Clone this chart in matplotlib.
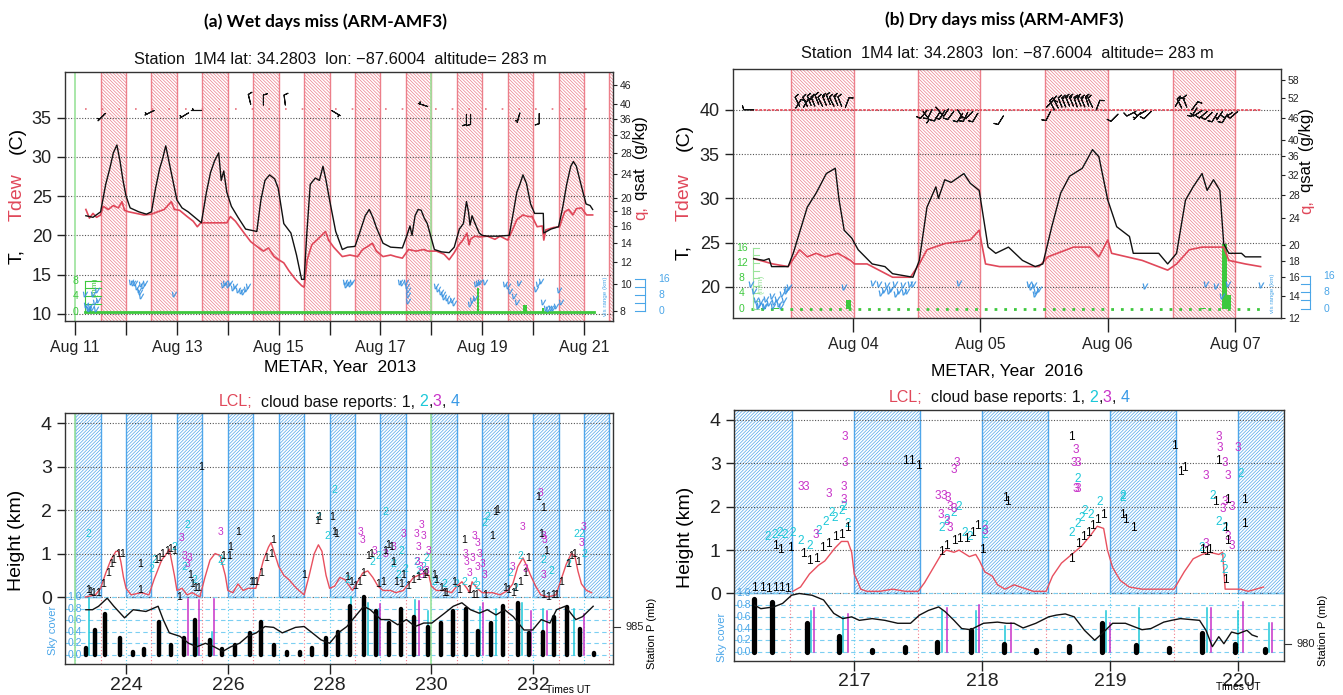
import numpy as np
import matplotlib
matplotlib.use('Agg')
import matplotlib.pyplot as plt
from matplotlib.patches import Rectangle

plt.rcParams['font.family'] = ['Liberation Sans Narrow', 'Liberation Sans', 'DejaVu Sans']
plt.rcParams['hatch.linewidth'] = 0.5
plt.rcParams['axes.linewidth'] = 1.0

# ------------------------------------------------------------------ data
# ---- (a) top: temperature / dew point (day of year 2013) ----
ta_time = [223.21, 223.35, 223.50, 223.60, 223.68, 223.75, 223.82, 223.88, 223.94, 224.00, 224.08, 224.25,
           224.40, 224.50, 224.58, 224.66, 224.72, 224.78, 224.84, 224.92, 225.00, 225.10, 225.22, 225.35,
           225.48, 225.58, 225.66, 225.74, 225.82, 225.87, 225.92, 225.98, 226.07, 226.20, 226.35, 226.57,
           226.65, 226.73, 226.82, 226.92, 226.99, 227.10, 227.24, 227.35, 227.45, 227.50, 227.55, 227.62,
           227.72, 227.80, 227.87, 227.93, 228.00, 228.12, 228.25, 228.35, 228.50, 228.60, 228.70, 228.78,
           228.85, 228.92, 229.05, 229.20, 229.43, 229.52, 229.58, 229.62, 229.68, 229.74, 229.80, 229.86,
           229.92, 230.06, 230.20, 230.35, 230.45, 230.55, 230.63, 230.69, 230.73, 230.76, 230.80, 230.86,
           230.94, 231.00, 231.10, 231.30, 231.53, 231.60, 231.68, 231.74, 231.80, 231.87, 231.95, 232.03,
           232.15, 232.20, 232.21, 232.35, 232.50, 232.58, 232.66, 232.74, 232.79, 232.85, 232.92, 232.98,
           233.04, 233.12, 233.17]
ta_temp = [22.5, 22.3, 23.0, 26.5, 28.5, 30.5, 31.5, 29.5, 27.0, 25.0, 23.5, 23.0,
           22.7, 23.0, 26.0, 28.5, 29.8, 31.4, 29.5, 27.0, 24.5, 23.5, 23.0, 22.3,
           21.6, 25.5, 28.0, 29.5, 30.5, 27.0, 28.2, 25.5, 23.7, 22.3, 20.8, 20.5,
           24.5, 27.0, 27.7, 27.2, 26.0, 21.5, 20.3, 17.5, 14.4, 14.4, 20.0, 26.5,
           27.3, 27.0, 28.8, 27.0, 24.5, 20.5, 18.2, 18.5, 18.6, 20.5, 22.5, 23.3,
           22.3, 21.0, 19.0, 18.5, 18.4, 20.0, 21.2, 20.0, 22.5, 23.3, 23.2, 22.2,
           21.5, 18.2, 17.9, 17.8, 18.5, 20.8, 21.5, 24.3, 23.0, 21.3, 22.5, 21.5,
           20.3, 20.0, 19.9, 19.9, 20.0, 22.5, 25.5, 26.5, 27.7, 26.6, 24.0, 22.8,
           22.8, 22.8, 20.3, 20.8, 21.1, 23.5, 26.5, 28.8, 29.4, 28.8, 27.0, 25.5,
           24.0, 23.8, 23.3]
tda_time = [223.21, 223.28, 223.35, 223.42, 223.50, 223.55, 223.65, 223.75, 223.85, 223.92, 223.97, 224.05,
            224.20, 224.35, 224.50, 224.62, 224.75, 224.89, 224.95, 225.05, 225.20, 225.32, 225.40, 225.47,
            225.60, 225.80, 225.98, 226.05, 226.15, 226.32, 226.45, 226.57, 226.70, 226.80, 226.91, 227.00,
            227.10, 227.20, 227.33, 227.45, 227.50, 227.56, 227.65, 227.78, 227.92, 227.98, 228.08, 228.25,
            228.40, 228.55, 228.65, 228.75, 228.84, 228.92, 229.05, 229.20, 229.30, 229.43, 229.55, 229.70,
            229.85, 229.93, 230.10, 230.25, 230.35, 230.45, 230.52, 230.62, 230.70, 230.74, 230.77, 230.85,
            230.95, 231.10, 231.25, 231.35, 231.50, 231.58, 231.68, 231.80, 231.90, 231.98, 232.08, 232.18,
            232.21, 232.25, 232.40, 232.52, 232.62, 232.70, 232.78, 232.85, 232.95, 233.05, 233.17]
tda_temp = [23.3, 22.2, 22.8, 22.3, 22.6, 23.7, 23.3, 23.8, 23.5, 24.3, 23.2, 23.0,
            22.8, 22.6, 22.7, 23.0, 23.3, 24.3, 23.3, 23.2, 22.4, 21.8, 21.1, 21.6,
            21.6, 21.6, 21.6, 22.4, 21.8, 20.3, 19.2, 18.6, 18.0, 18.4, 17.3, 16.9,
            16.5, 15.5, 14.4, 13.6, 13.4, 16.9, 18.8, 19.6, 20.5, 19.4, 18.5, 17.3,
            17.5, 17.3, 18.2, 18.6, 19.0, 18.0, 17.3, 17.5, 17.3, 17.1, 18.2, 18.0,
            18.2, 18.0, 18.0, 17.6, 16.9, 17.8, 18.6, 19.4, 20.3, 18.8, 19.5, 19.9,
            19.8, 19.9, 19.5, 19.9, 19.4, 20.5, 22.0, 22.6, 22.4, 22.4, 21.1, 21.2,
            19.4, 20.7, 21.0, 21.1, 23.0, 23.3, 22.6, 23.4, 23.5, 22.6, 22.6]

# ---- (b) top: temperature / dew point (day of year 2016) ----
tb_time = [216.22, 216.30, 216.34, 216.36, 216.49, 216.53, 216.57, 216.64, 216.71, 216.79, 216.86, 216.89,
           216.93, 216.99, 217.04, 217.15, 217.25, 217.31, 217.47, 217.52, 217.58, 217.65, 217.67, 217.72,
           217.77, 217.87, 217.92, 217.99, 218.06, 218.12, 218.22, 218.33, 218.43, 218.49, 218.56, 218.63,
           218.70, 218.80, 218.88, 218.93, 219.00, 219.07, 219.17, 219.20, 219.40, 219.47, 219.54, 219.61,
           219.67, 219.74, 219.78, 219.83, 219.88, 219.91, 219.95, 220.05, 220.08, 220.20]
tb_temp = [23.2, 23.0, 23.2, 22.3, 22.3, 23.8, 25.7, 29.0, 30.6, 32.8, 33.4, 29.8,
           26.4, 25.5, 24.2, 22.6, 22.3, 21.5, 21.1, 23.0, 29.0, 31.3, 30.0, 32.1,
           31.8, 32.8, 31.7, 30.9, 24.5, 23.8, 24.5, 23.0, 22.3, 22.6, 26.8, 30.6,
           32.5, 33.4, 35.5, 34.7, 29.8, 26.8, 25.7, 23.8, 23.8, 22.6, 23.8, 29.8,
           31.3, 32.8, 30.9, 32.1, 30.9, 24.9, 23.8, 23.8, 23.4, 23.4]
tdb_time = [216.22, 216.37, 216.49, 216.58, 216.64, 216.71, 216.78, 216.88, 216.98, 217.01, 217.11, 217.31,
            217.45, 217.52, 217.58, 217.72, 217.92, 217.99, 218.04, 218.15, 218.46, 218.53, 218.73, 218.86,
            218.93, 219.00, 219.03, 219.27, 219.47, 219.54, 219.64, 219.74, 219.91, 219.95, 220.08, 220.20]
tdb_temp = [23.2, 22.6, 22.3, 24.2, 23.4, 23.8, 23.4, 23.8, 23.0, 22.6, 22.6, 21.1,
            21.1, 22.6, 24.2, 24.9, 25.3, 26.4, 22.6, 22.3, 22.3, 23.4, 24.5, 24.5,
            23.4, 25.3, 23.8, 23.0, 21.9, 22.6, 24.2, 24.5, 24.5, 23.0, 22.6, 22.3]

# ---- wind barbs (time, plotted level, u, v in knots) ----
wa_time = [223.59, 224.55, 225.23, 225.48, 226.45, 226.70, 227.13, 228.04, 229.93, 230.69, 230.77, 231.74, 232.12]
wa_lev = [35.5, 35.9, 35.6, 35.9, 36.7, 36.6, 36.6, 35.9, 36.4, 35.4, 35.4, 35.6, 35.5]
wa_u = [5, 6, 5, 6, 2, 0, 1, -5, 6, 0, 0, 2, 0]
wa_v = [5, 3, 3, 0, -8, -8, -8, 3, -2, 8, 8, 7, 8]
wb_time = [216.22, 216.55, 216.58, 216.61, 216.64, 216.67, 216.70, 216.73, 216.76, 216.79, 216.82, 216.85,
           216.88, 216.91, 216.94, 217.55, 217.58, 217.62, 217.65, 217.68, 217.72, 217.75, 217.79, 217.82,
           217.86, 217.90, 217.94, 217.98, 218.18, 218.52, 218.55, 218.58, 218.61, 218.64, 218.67, 218.70,
           218.73, 218.76, 218.79, 218.82, 218.85, 218.88, 218.91, 219.08, 219.22, 219.26, 219.30, 219.34,
           219.53, 219.58, 219.62, 219.66, 219.70, 219.74, 219.78, 219.82, 219.86, 219.90, 219.94, 219.98, 220.02]
wb_lev = [40.0, 40.2, 40.4, 40.3, 40.4, 40.5, 40.4, 40.6, 40.4, 40.5, 40.6, 40.4,
          40.5, 40.4, 40.3, 39.8, 39.9, 40.0, 40.3, 39.7, 39.9, 40.1, 39.8, 40.0,
          39.6, 39.7, 39.8, 39.6, 39.3, 40.3, 39.8, 40.0, 40.2, 40.3, 40.3, 40.4,
          40.4, 40.3, 40.4, 40.3, 40.4, 40.3, 40.0, 39.5, 39.8, 39.7, 39.9, 39.8,
          40.4, 40.2, 40.3, 40.0, 40.2, 39.9, 39.8, 39.7, 39.6, 39.8, 39.5, 39.7, 39.8]
wb_u = [8, -5, 5, -5, 5, 4, 5, 4, 5, 5, 4, 5, 5, 4, -3, -6, 5, 4, -5, 5, 5, 4, 6, -4,
        5, 4, 6, 5, 5, -8, 4, 5, 5, 4, 5, 5, 5, 4, 5, 5, 4, 5, -3, 6, 8, 5, 7, 6,
        -5, 5, 4, -6, 5, 8, 7, 6, 5, 4, 5, 8, 7]
wb_v = [0, -8, -10, -8, -10, -10, -12, -10, -10, -12, -10, -10, -12, -10, -8, 8, 6, 8, 6, 8, 8, 6, 8, 6,
        8, 8, 6, 8, 8, -8, 8, -10, -10, -10, -12, -12, -12, -12, -12, -12, -12, -10, -8, 6, 4, 5, 4, 6,
        -8, -10, -10, -8, 8, 5, 6, 6, 8, 6, 8, 5, 6]

# ---- precipitation (mm) ----
pa_time = [230.92, 231.82, 231.86, 232.20, 223.30]
pa_mm = [6.2, 1.6, 1.8, 0.9, 0.6]
pb_time = [216.30, 216.40, 216.965, 219.915, 219.945, 219.75]
pb_mm = [0.3, 0.3, 2.4, 17.0, 3.6, 0.2]

# ---- visibility markers (plotted on temperature scale) ----
va_time = [223.20, 223.22, 223.25, 223.28, 223.30, 223.33, 223.35, 223.38, 223.40, 223.43, 223.45,
           224.09, 224.14, 224.18, 224.22, 224.25, 224.30, 224.34, 224.38, 224.27, 224.30, 224.95,
           225.90, 225.95, 226.00, 226.05, 226.10, 226.15, 226.20, 226.25, 226.30, 226.35, 226.40,
           228.30, 228.33, 228.37, 228.41, 228.45, 229.39, 229.42, 229.50, 229.52, 229.55, 229.55, 229.55,
           230.10, 230.13, 230.18, 230.22, 230.25, 230.30, 230.35, 230.40, 230.45,
           230.75, 230.80, 230.85, 230.88, 230.92, 230.96, 231.05, 231.45, 231.50, 231.55, 231.62, 231.68, 231.72,
           232.05, 232.10, 232.15, 232.20, 232.25, 232.30, 232.35, 232.40, 232.45, 232.50, 232.55]
va_lev = [12.5, 11.2, 10.7, 10.6, 11.0, 10.7, 12.6, 11.5, 10.6, 13.0, 11.8,
          14.1, 13.9, 14.0, 13.4, 13.0, 13.8, 13.6, 13.9, 12.8, 12.3, 12.6,
          13.7, 14.0, 13.7, 13.9, 13.3, 13.5, 13.0, 12.9, 12.8, 13.2, 13.5,
          14.1, 13.7, 14.0, 13.8, 14.1, 14.1, 13.9, 14.1, 13.5, 13.0, 12.4, 11.6,
          13.6, 13.2, 12.8, 12.6, 12.2, 12.0, 11.6, 11.8, 11.4,
          11.3, 11.8, 12.0, 13.8, 14.0, 14.1, 14.1, 13.8, 13.6, 12.9, 12.3, 11.5, 14.0,
          13.2, 13.8, 14.2, 11.5, 10.7, 10.6, 10.7, 10.8, 11.0, 13.0, 11.5]
vb_time = [216.20, 216.22, 216.24, 216.26, 216.28, 216.30, 216.32, 216.34, 216.36, 216.38, 216.40, 216.42,
           216.44, 216.46, 216.48, 216.50, 216.25, 216.31, 216.37, 216.43, 216.47,
           216.93, 217.16, 217.20, 217.24, 217.27, 217.30, 217.33, 217.36, 217.39, 217.42, 217.45, 217.47,
           217.22, 217.28, 217.34, 217.40, 217.83, 218.38, 218.40, 218.42, 218.44, 218.46, 218.43,
           219.29, 219.77, 219.85, 219.90, 219.94, 220.20]
vb_lev = [20.3, 19.5, 18.5, 18.0, 18.4, 17.9, 18.6, 18.2, 19.0, 18.3, 18.6, 18.1,
          19.2, 18.5, 19.8, 20.0, 17.9, 17.9, 17.9, 17.9, 19.5,
          20.0, 20.4, 20.3, 19.7, 20.2, 19.8, 20.3, 19.5, 20.2, 19.6, 20.3, 20.3,
          19.3, 19.6, 19.2, 19.4, 20.5, 20.3, 20.0, 20.2, 19.6, 19.8, 19.2,
          20.1, 20.3, 20.1, 19.0, 20.3, 20.2]

# ---- (a) bottom: LCL and cloud bases (km) ----
lcla_time = [223.2, 223.4, 223.5, 223.6, 223.7, 223.8, 223.85, 223.9, 223.95, 224.0, 224.1, 224.3, 224.45,
             224.55, 224.7, 224.8, 224.85, 224.9, 224.95, 225.0, 225.1, 225.2, 225.3, 225.45, 225.55, 225.65,
             225.75, 225.85, 225.95, 226.0, 226.1, 226.2, 226.3, 226.4, 226.55, 226.6, 226.7, 226.8, 226.85,
             226.92, 227.0, 227.1, 227.2, 227.35, 227.5, 227.6, 227.7, 227.78, 227.85, 227.93, 228.0, 228.1,
             228.2, 228.3, 228.45, 228.55, 228.65, 228.75, 228.85, 228.95, 229.05, 229.2, 229.3, 229.45,
             229.55, 229.65, 229.75, 229.85, 229.95, 230.0, 230.1, 230.25, 230.4, 230.5, 230.6, 230.7, 230.75,
             230.8, 230.9, 231.0, 231.2, 231.35, 231.5, 231.6, 231.7, 231.8, 231.88, 231.95, 232.05, 232.15,
             232.3, 232.45, 232.55, 232.65, 232.75, 232.82, 232.88, 232.95, 233.05, 233.15]
lcla_km = [0.0, 0.05, 0.2, 0.55, 0.85, 1.05, 1.05, 0.8, 0.45, 0.2, 0.05, 0.1, 0.05,
           0.4, 0.85, 1.0, 1.1, 0.8, 0.5, 0.15, 0.2, 0.05, 0.1, 0.0, 0.45, 0.85,
           1.0, 0.95, 0.5, 0.15, 0.1, 0.3, 0.15, 0.2, 0.2, 0.4, 0.85, 1.15, 1.25,
           1.0, 0.7, 0.5, 0.4, 0.2, 0.05, 0.5, 1.0, 1.2, 1.05, 0.5, 0.2, 0.25,
           0.45, 0.4, 0.15, 0.35, 0.55, 0.6, 0.45, 0.25, 0.15, 0.15, 0.1, 0.15,
           0.3, 0.45, 0.5, 0.55, 0.5, 0.25, 0.15, 0.15, 0.1, 0.25, 0.35, 0.2, 0.1,
           0.35, 0.2, 0.1, 0.1, 0.05, 0.15, 0.3, 0.7, 0.9, 0.7, 0.5, 0.25, 0.05,
           0.0, 0.05, 0.4, 0.75, 1.0, 0.95, 0.6, 0.3, 0.15, 0.1]
cba1 = [(223.25, 0.15), (223.3, 0.12), (223.35, 0.1), (223.45, 0.1), (223.55, 0.3), (223.65, 0.55),
        (223.7, 0.75), (223.75, 0.85), (223.85, 1.0), (223.93, 1.0), (224.28, 0.75), (224.28, 0.15),
        (224.6, 0.85), (224.65, 0.9), (224.7, 1.0), (224.8, 1.05), (224.87, 1.1), (224.95, 1.05),
        (225.05, 0.0), (225.25, 0.5), (225.3, 0.3), (225.35, 0.2), (225.42, 0.2), (225.48, 3.0),
        (225.9, 0.95), (226.03, 0.95), (226.05, 1.15), (226.2, 1.5), (226.45, 0.35), (226.5, 0.35),
        (226.55, 0.35), (226.65, 0.55), (226.75, 0.9), (226.85, 1.0), (226.9, 1.3), (227.75, 1.75),
        (227.8, 1.85), (228.05, 1.85), (228.08, 1.5), (228.12, 1.45), (227.5, 0.5), (228.35, 0.45),
        (228.42, 0.35), (228.5, 0.25), (228.58, 0.35), (228.65, 0.55), (228.75, 0.95), (228.82, 1.0),
        (228.95, 0.3), (229.05, 0.35), (229.1, 1.05), (229.15, 1.2), (229.2, 1.15), (229.25, 0.8),
        (229.3, 0.35), (229.4, 0.3), (229.45, 0.5), (229.55, 0.25), (229.65, 0.4), (229.75, 0.45),
        (229.85, 0.5), (229.9, 0.55), (230.05, 0.5), (230.1, 0.4), (230.2, 0.2), (230.25, 0.1),
        (230.3, 0.1), (230.45, 0.35), (230.55, 0.15), (230.65, 1.3), (230.75, 0.15), (230.82, 0.05),
        (230.88, 0.05), (231.05, 0.05), (231.2, 1.4), (231.25, 1.95), (231.3, 2.0), (231.45, 0.2),
        (231.5, 0.15), (231.6, 0.1), (231.65, 0.2), (231.75, 0.35), (231.85, 0.55), (231.9, 0.9),
        (232.1, 2.3), (232.15, 1.45), (232.2, 2.05), (232.25, 1.05), (232.2, 0.05), (232.3, 0.0),
        (232.4, 0.05), (232.45, 0.05), (232.55, 0.35), (232.68, 0.75), (232.75, 0.95), (232.8, 1.0),
        (232.88, 0.8)]
cba2 = [(223.25, 1.45), (224.5, 0.65), (224.55, 0.85), (224.95, 1.15), (225.15, 0.7), (225.2, 1.65),
        (225.35, 0.4), (225.85, 0.85), (225.9, 0.8), (227.78, 1.85), (227.95, 1.4), (228.1, 2.45),
        (228.35, 0.4), (228.85, 0.8), (228.95, 0.95), (229.1, 1.95), (229.25, 0.75), (229.35, 0.5),
        (229.42, 1.05), (229.48, 0.65), (229.7, 0.8), (229.75, 0.6), (229.85, 0.7), (229.9, 0.9),
        (230.05, 0.35), (230.25, 0.3), (230.5, 0.3), (230.65, 0.35), (230.85, 0.35), (230.9, 0.25),
        (231.05, 1.7), (231.1, 1.85), (231.55, 0.55), (231.65, 0.2), (231.75, 0.95), (232.2, 0.85),
        (232.35, 0.6), (232.7, 0.75), (232.85, 1.45), (232.95, 1.45), (233.0, 1.0)]
cba3 = [(225.1, 1.35), (225.15, 0.95), (225.25, 0.9), (225.2, 0.75), (225.85, 1.5), (228.6, 1.5),
        (228.65, 1.3), (228.88, 1.05), (229.1, 1.0), (229.25, 1.15), (229.45, 1.45), (229.7, 1.45),
        (229.8, 1.65), (229.85, 1.4), (229.75, 1.15), (229.72, 0.8), (229.78, 0.7), (229.8, 0.5),
        (229.9, 0.6), (229.95, 1.05), (230.68, 1.0), (230.7, 0.8), (230.75, 0.55), (230.8, 0.9),
        (230.85, 1.4), (230.9, 1.25), (230.95, 1.0), (230.9, 0.7), (231.0, 0.75), (231.05, 0.5),
        (231.6, 0.7), (231.85, 0.65), (231.8, 1.6), (232.15, 2.4), (232.2, 1.4), (232.22, 1.3),
        (232.2, 0.5), (232.95, 1.25), (233.0, 1.6)]

# ---- (b) bottom ----
lclb_time = [216.52, 216.58, 216.65, 216.72, 216.77, 216.85, 216.90, 216.95, 216.98, 217.00, 217.03, 217.05,
             217.10, 217.20, 217.30, 217.40, 217.50, 217.55, 217.62, 217.68, 217.72, 217.78, 217.82, 217.90,
             217.95, 217.98, 218.02, 218.08, 218.12, 218.18, 218.25, 218.30, 218.40, 218.50, 218.55, 218.62,
             218.70, 218.78, 218.85, 218.90, 218.95, 218.98, 219.02, 219.08, 219.15, 219.25, 219.35, 219.50,
             219.58, 219.65, 219.72, 219.78, 219.85, 219.88, 219.90, 219.95, 220.02, 220.08, 220.20]
lclb_km = [0.05, 0.15, 0.45, 0.65, 0.75, 1.05, 1.2, 1.2, 0.95, 0.45, 0.25, 0.1,
           0.05, 0.05, 0.1, 0.05, 0.05, 0.25, 0.6, 0.9, 1.0, 0.95, 1.0, 0.85,
           0.9, 0.75, 0.5, 0.4, 0.2, 0.1, 0.2, 0.15, 0.05, 0.05, 0.4, 0.7,
           0.9, 1.1, 1.35, 1.55, 1.5, 1.0, 0.6, 0.3, 0.15, 0.1, 0.1, 0.1,
           0.5, 0.8, 0.9, 0.95, 0.9, 0.95, 0.1, 0.1, 0.1, 0.05, 0.15]
cbb1 = [(216.22, 0.12), (216.28, 0.12), (216.33, 0.1), (216.38, 0.12), (216.43, 0.12), (216.48, 0.1),
        (216.38, 1.1), (216.42, 1.0), (216.5, 1.05), (216.6, 0.9), (216.65, 0.75), (216.7, 0.8),
        (216.75, 1.05), (216.8, 1.15), (216.85, 1.3), (216.9, 1.35), (216.95, 1.5), (217.4, 3.05),
        (217.45, 3.05), (217.5, 2.95), (217.68, 0.95), (217.72, 1.1), (217.78, 1.2), (217.82, 1.25),
        (217.88, 1.25), (217.92, 1.4), (217.96, 1.55), (218.0, 1.0), (218.18, 2.2), (218.2, 2.1),
        (218.7, 0.8), (218.75, 1.15), (218.79, 1.3), (218.83, 1.4), (218.86, 1.55), (218.9, 1.7),
        (218.95, 1.8), (218.7, 3.6), (219.1, 1.8), (219.12, 1.7), (219.18, 1.5), (219.5, 3.4),
        (219.55, 2.8), (219.58, 2.9), (219.72, 1.0), (219.75, 0.95), (219.78, 1.0), (219.82, 2.1),
        (219.85, 3.05), (219.9, 1.5), (219.92, 1.2), (219.9, 0.3), (219.92, 2.15), (220.05, 2.15),
        (220.05, 1.6)]
cbb2 = [(216.32, 1.3), (216.38, 1.35), (216.42, 1.4), (216.46, 1.35), (216.52, 1.4), (216.58, 1.2),
        (216.65, 1.1), (216.72, 1.45), (216.78, 1.65), (216.82, 1.85), (216.85, 1.75), (216.9, 1.9),
        (216.92, 2.0), (216.95, 1.6), (217.68, 1.5), (217.72, 1.7), (217.78, 1.85), (217.82, 2.0),
        (217.86, 1.4), (217.9, 1.3), (218.02, 1.55), (218.02, 1.35), (218.7, 1.4), (218.75, 1.6),
        (218.8, 1.9), (218.85, 1.8), (218.75, 2.65), (218.78, 1.75), (218.92, 2.1), (219.1, 2.25),
        (219.1, 2.2), (219.8, 2.25), (219.85, 1.65), (219.9, 0.55), (219.88, 0.8), (219.9, 1.5),
        (220.02, 2.75), (219.72, 1.05)]
cbb3 = [(216.58, 2.45), (216.62, 2.45), (216.8, 2.3), (216.92, 2.45), (216.92, 2.15), (216.93, 3.0),
        (216.93, 3.6), (216.7, 1.35), (217.65, 2.25), (217.7, 2.25), (217.73, 2.2), (217.68, 1.8),
        (217.72, 1.65), (217.75, 2.0), (217.78, 1.95), (217.8, 3.0), (217.78, 2.85), (217.75, 1.5),
        (218.02, 1.45), (218.72, 3.0), (218.73, 3.3), (218.73, 2.4), (218.75, 2.4), (218.75, 3.0),
        (219.75, 1.15), (219.75, 2.7), (219.85, 3.6), (219.86, 3.35), (219.9, 2.1), (219.92, 2.7),
        (219.95, 2.0), (219.88, 1.95), (219.9, 3.0), (219.92, 1.3), (219.95, 1.1), (220.0, 3.35)]

# ---- sky cover (fraction) ----
ska_time = [223.21, 223.39, 223.59, 223.88, 224.13, 224.36, 224.64, 224.89, 225.14, 225.36, 225.65, 225.88,
            226.15, 226.43, 226.66, 226.91, 227.16, 227.41, 227.66, 227.92, 228.17, 228.40, 228.67, 228.92,
            229.16, 229.41, 229.66, 229.93, 230.18, 230.42, 230.69, 230.92, 231.17, 231.40, 231.70, 231.92,
            232.20, 232.42, 232.66, 232.92, 233.19]
ska_frac = [0.12, 0.43, 0.70, 0.30, 0.05, 0.10, 0.57, 0.17, 0.30, 0.60, 0.25, 0.10,
            0.17, 0.38, 0.57, 0.17, 0.05, 0.05, 0.12, 0.30, 0.40, 0.85, 1.00, 0.75,
            0.55, 0.80, 0.65, 0.48, 0.55, 0.75, 0.80, 0.42, 0.55, 0.85, 0.90, 0.37,
            0.40, 0.65, 0.82, 0.45, 0.03]
ska2_time = [223.27, 225.41, 225.69, 228.42, 228.76, 228.97, 229.68, 229.93, 230.96, 231.28, 231.78, 232.20, 232.80]
ska2_frac = [0.98, 0.30, 0.40, 1.00, 0.90, 0.80, 0.95, 0.75, 0.82, 0.80, 0.90, 0.80, 0.80]
ska3_time = [225.20, 225.43, 225.72, 228.99, 229.74, 231.00, 231.95, 232.27, 233.00]
ska3_frac = [0.97, 0.95, 0.97, 0.88, 0.93, 0.90, 0.75, 0.75, 0.70]
skb_time = [216.22, 216.36, 216.63, 216.88, 217.14, 217.40, 217.65, 217.91, 218.17, 218.42, 218.68, 218.94,
            219.20, 219.46, 219.72, 219.98, 220.21]
skb_frac = [0.90, 0.85, 0.50, 0.28, 0.03, 0.08, 0.17, 0.38, 0.13, 0.03, 0.10, 0.50,
            0.12, 0.07, 0.33, 0.13, 0.05]
skb2_time = [216.66, 216.91, 217.69, 217.95, 218.18, 218.97, 219.23, 219.76, 220.00, 220.24]
skb2_frac = [0.70, 0.60, 0.70, 0.70, 0.45, 0.70, 0.75, 0.75, 0.70, 0.50]
skb3_time = [216.68, 216.94, 217.72, 217.97, 218.22, 218.99, 219.78, 220.03, 220.26]
skb3_frac = [0.75, 0.65, 0.75, 0.80, 0.50, 0.50, 0.75, 0.85, 0.50]

# ---- station pressure (mb) ----
pra_time = [223.21, 223.34, 223.46, 223.63, 223.76, 223.97, 224.14, 224.39, 224.63, 224.73, 224.85, 225.06,
            225.23, 225.39, 225.56, 225.73, 225.90, 226.06, 226.23, 226.39, 226.56, 226.73, 226.90, 227.07,
            227.33, 227.50, 227.66, 227.83, 228.00, 228.17, 228.34, 228.50, 228.67, 228.80, 229.01, 229.18,
            229.34, 229.51, 229.68, 229.85, 230.01, 230.26, 230.43, 230.60, 230.77, 230.94, 231.10, 231.27,
            231.44, 231.61, 231.82, 231.99, 232.16, 232.33, 232.46, 232.63, 232.84, 232.97, 233.18]
pra_mb = [986.22, 986.22, 986.46, 987.02, 986.46, 985.66, 986.22, 986.10, 986.46, 985.54, 984.62, 984.38,
          983.90, 983.66, 983.90, 983.66, 983.34, 983.66, 983.90, 984.38, 984.62, 985.06, 985.00, 984.62,
          985.00, 985.06, 984.62, 984.14, 983.90, 984.62, 985.06, 985.74, 986.46, 986.22, 985.54, 985.54,
          985.18, 985.54, 985.06, 985.30, 985.30, 985.98, 986.46, 986.70, 986.22, 985.98, 986.22, 985.86,
          986.22, 985.74, 984.82, 984.82, 985.54, 985.30, 986.22, 986.46, 985.54, 985.74, 986.46]
prb_time = [216.22, 216.27, 216.37, 216.44, 216.51, 216.57, 216.67, 216.76, 216.84, 216.91, 216.98, 217.04,
            217.14, 217.24, 217.34, 217.44, 217.51, 217.58, 217.66, 217.71, 217.78, 217.84, 217.91, 218.01,
            218.12, 218.19, 218.25, 218.32, 218.42, 218.52, 218.58, 218.65, 218.72, 218.80, 218.88, 218.95,
            219.02, 219.12, 219.19, 219.25, 219.32, 219.42, 219.48, 219.55, 219.65, 219.70, 219.75, 219.80,
            219.85, 219.89, 219.95, 220.00, 220.07, 220.11, 220.15]
prb_mb = [982.64, 982.40, 982.52, 982.76, 983.32, 983.44, 983.32, 983.00, 982.08, 981.72, 981.84, 981.60,
          981.72, 981.60, 981.40, 981.40, 981.96, 982.28, 982.52, 982.20, 981.60, 981.04, 980.96, 981.40,
          981.48, 981.40, 981.40, 981.08, 981.40, 981.84, 981.96, 982.04, 981.84, 980.92, 980.24, 980.80,
          981.40, 981.40, 981.16, 980.96, 981.04, 981.48, 981.60, 981.72, 981.64, 981.60, 980.92, 979.80,
          980.48, 980.00, 980.80, 980.68, 980.92, 980.60, 980.48]

# tick labels
xlab_a = ['Aug 11', '', 'Aug 13', '', 'Aug 15', '', 'Aug 17', '', 'Aug 19', '', 'Aug 21']
xlab_b = ['Aug 04', 'Aug 05', 'Aug 06', 'Aug 07']
qt_a = [8, 10, 12, 14, 16, 18, 20, 24, 28, 32, 36, 40, 46]
qt_b = [12, 14, 16, 18, 20, 24, 28, 32, 36, 40, 46, 52, 58]

# ------------------------------------------------------------------ style
RED = '#E0485A'
HRED = '#EC7F8A'
BLUE = '#3A9AE6'
HBLUE = '#4FA6EA'
CYAN = '#1CC8D8'
MAG = '#C832C8'
GREEN = '#3DC83D'
LGREEN = '#9BE39B'
VBLUE = '#3C95E2'

W, H = 1343, 695
fig = plt.figure(figsize=(W / 100, H / 100), dpi=100)


def ax_px(l, t, r, b):
    return fig.add_axes([l / W, 1 - b / H, (r - l) / W, (b - t) / H])


def px2fx(x):
    return x / W


def px2fy(y):
    return 1 - y / H


def qfuncs(p):
    def T2q(T):
        T = np.asarray(T, float)
        es = 6.112 * np.exp(17.67 * T / (T + 243.5))
        return 622.0 * es / (p - 0.378 * es)

    def q2T(q):
        q = np.clip(np.asarray(q, float), 0.5, 300)
        es = q * p / (622.0 + 0.378 * q)
        L = np.log(es / 6.112)
        return 243.5 * L / (17.67 - L)
    return T2q, q2T


def frame(ax):
    for s in ax.spines.values():
        s.set_color('#333333')
        s.set_linewidth(1.0)


def top_panel(ax, xlim, ylim, ygrid, ttime, ttemp, tdtime, tdtemp, red_starts, red_w,
              pres, qticks, xticks, xlabels, ticklen):
    ax.set_xlim(*xlim)
    ax.set_ylim(*ylim)
    frame(ax)
    for g in ygrid:
        ax.axhline(g, color='#555555', lw=0.8, ls=(0, (1, 1.5)), zorder=1)
    for s in red_starts:
        ax.add_patch(Rectangle((s, ylim[0] - 5), red_w, ylim[1] - ylim[0] + 10, facecolor='none',
                               edgecolor=HRED, hatch='\\' * 10, lw=1.0, zorder=0.5))
    ax.plot(tdtime, tdtemp, color=RED, lw=1.2, zorder=4)
    ax.plot(ttime, ttemp, color='#111111', lw=1.0, zorder=5)
    ax.set_yticks(ygrid)
    ax.tick_params(axis='y', labelsize=13, length=6, width=1, colors='#222222')
    ax.set_xticks(xticks)
    ax.set_xticklabels(xlabels)
    ax.tick_params(axis='x', labelsize=11.5, length=ticklen, width=1, colors='#222222', pad=4)
    T2q, q2T = qfuncs(pres)
    sec = ax.secondary_yaxis('right', functions=(T2q, q2T))
    sec.set_yticks(qticks)
    sec.tick_params(labelsize=7.5, length=3, pad=2, colors='#222222')
    sec.spines['right'].set_visible(False)
    return sec


def bottom_panel(ax, xlim, blue_starts, blue_w, lt, lk, c1, c2, c3, skt, skf, sk2t, sk2f, sk3t, sk3f,
                 prt, prm, pref, prsky, skbase, barw, fs, xt):
    ytop = 4.23
    ybot = skbase - 0.21
    ax.set_xlim(*xlim)
    ax.set_ylim(ybot, ytop)
    frame(ax)
    for g in [0, 1, 2, 3, 4]:
        ax.axhline(g, color='#555555', lw=0.8, ls=(0, (1, 1.5)), zorder=1)
    for s in blue_starts:
        ax.add_patch(Rectangle((s, 0), blue_w, ytop + 1, facecolor='none', edgecolor=HBLUE,
                               hatch='/' * 10, lw=1.0, zorder=0.5))

    def sky(f):
        return skbase * (1 - np.asarray(f, float))
    for f in [0, 0.2, 0.4, 0.6, 0.8, 1.0]:
        ax.axhline(sky(f), color='#7CCFF2', lw=0.8, ls=(0, (4, 3)), zorder=1)
        ax.text(0.004, sky(f), '%.1f' % f, transform=ax.get_yaxis_transform(), color='#4BA6E8',
                fontsize=7.5, va='center', ha='left', zorder=6)
    for d in range(int(np.floor(xlim[0])), int(np.ceil(xlim[1])) + 1):
        ax.plot([d, d], [ybot, 0], color='#5ACCF0', lw=0.8, ls=(0, (1, 2)), zorder=1)
        ax.plot([d + 0.5, d + 0.5], [ybot, 0], color='#F07A8A', lw=0.8, ls=(0, (1, 2)), zorder=1)
    for t, f in zip(sk2t, sk2f):
        ax.plot([t, t], [sky(0), sky(f)], color=CYAN, lw=1.1, zorder=3)
    for t, f in zip(sk3t, sk3f):
        ax.plot([t + 0.008, t + 0.008], [sky(0), sky(f)], color=MAG, lw=1.1, zorder=3)
    for t, f in zip(skt, skf):
        ax.plot([t, t], [sky(0), sky(max(f, 0.0))], color='black', lw=barw, solid_capstyle='round',
                zorder=4)
    pk = np.asarray(prsky)
    ax.plot(prt, sky(pk[0] + (np.asarray(prm) - pref) * pk[1]), color='#111111', lw=1.0, zorder=5)
    ax.plot([1.0, 1.012], [sky(pk[0]), sky(pk[0])], transform=ax.get_yaxis_transform(),
            color='#333333', lw=0.8, clip_on=False)
    ax.text(1.022, sky(pk[0]), '%d' % pref, transform=ax.get_yaxis_transform(), fontsize=8,
            va='center', ha='left', color='#222222')
    ax.plot(lt, lk, color='#E8505F', lw=1.0, zorder=4)
    for pts, col, lab in [(c2, CYAN, '2'), (c3, MAG, '3'), (c1, 'black', '1')]:
        for (t, h) in pts:
            ax.text(t, h, lab, color=col, fontsize=fs, ha='center', va='center', zorder=6,
                    clip_on=True)
    ax.set_yticks([0, 1, 2, 3, 4])
    ax.tick_params(axis='y', labelsize=14, length=6, width=1, colors='#222222')
    ax.set_xticks(xt)
    ax.set_xticklabels([str(v) for v in xt])
    ax.tick_params(axis='x', labelsize=14, length=7, width=1, colors='#222222', pad=2)


# ---------------- (a) top
axA = ax_px(65, 72, 613, 321)
top_panel(axA, (222.80, 233.57), (9.1, 40.8), [10, 15, 20, 25, 30, 35], ta_time, ta_temp,
          tda_time, tda_temp, [223.5 + i for i in range(11)], 0.5, 985.0, qt_a,
          list(range(223, 234)), xlab_a, 10)
axA.axvline(223.0, color=LGREEN, lw=1.2, zorder=2)
axA.axvline(230.0, color=LGREEN, lw=1.2, zorder=2)
axA.plot([223.2, 233.2], [36.1, 36.1], color='#E8707C', lw=1.2, ls=(0, (1, 9)), zorder=3)
axA.barbs(wa_time, wa_lev, wa_u, wa_v, length=3.8, linewidth=0.8, color='#111111', zorder=6)
pscale_a = 0.49
axA.plot([223.2, 228.05], [10.3, 10.3], color=GREEN, lw=2.0, zorder=3)
axA.plot([228.1, 233.2], [10.3, 10.3], color=GREEN, lw=2.0, zorder=3)
axA.bar(pa_time, np.asarray(pa_mm) * pscale_a, bottom=10.3, width=0.04, color=GREEN, zorder=3)
axA.plot([223.2, 223.2], [10.3, 10.3 + 8 * pscale_a], color=GREEN, lw=0.8, zorder=3)
for m in [0, 2, 4, 6, 8]:
    axA.plot([223.2, 223.5], [10.3 + m * pscale_a] * 2, color=GREEN, lw=0.8, zorder=3)
for m in [0, 4, 8]:
    axA.text(223.0, 10.3 + m * pscale_a, str(m), color=GREEN, fontsize=7.5, ha='center', va='center')
axA.text(223.38, 13.4, '(mm)', color=GREEN, fontsize=6, rotation=90, ha='center', va='center')
axA.scatter(va_time, va_lev, marker='$v$', s=14, color=VBLUE, linewidths=0.2, zorder=6)
vt = axA.get_yaxis_transform()
vA0, vAk = 10.35, 2.05 / 8
xa = (645 - 65) / 548
axA.plot([xa, xa], [vA0, vA0 + 16 * vAk], transform=vt, color='#4BA6E8', lw=0.8, clip_on=False)
for m in [0, 4, 8, 12, 16]:
    axA.plot([xa - 0.018, xa], [vA0 + m * vAk] * 2, transform=vt, color='#4BA6E8', lw=0.8, clip_on=False)
for m in [0, 8, 16]:
    axA.text(xa + 0.025, vA0 + m * vAk, str(m), transform=vt, color='#4BA6E8', fontsize=7.5, va='center')
axA.text(0.987, 12.2, 'vis range (km)', transform=vt, color='#4BA6E8', fontsize=4.5, rotation=90,
         ha='center', va='center')

# ---------------- (b) top
axB = ax_px(733, 69, 1281, 318)
top_panel(axB, (216.057, 220.36), (16.5, 44.6), [20, 25, 30, 35, 40], tb_time, tb_temp,
          tdb_time, tdb_temp, [216.515, 217.51, 218.51, 219.51], 0.49, 980.0, qt_b,
          [217, 218, 219, 220], xlab_b, 10)
axB.plot([216.2, 220.2], [40.0, 40.0], color='#E8505F', lw=1.3, ls=(0, (1.5, 0.8)), zorder=3)
axB.barbs(wb_time, wb_lev, wb_u, wb_v, length=3.8, linewidth=0.8, color='#111111', zorder=6)
pscale_b = 1.72 / 4
axB.plot([216.2, 220.2], [17.55, 17.55], color=GREEN, lw=2.0, ls=(0, (1, 2.5)), zorder=3)
axB.bar(pb_time, np.asarray(pb_mm) * pscale_b, bottom=17.55, width=0.04, color=GREEN, zorder=3)
axB.plot([216.215, 216.215], [17.55, 17.55 + 16 * pscale_b], color=LGREEN, lw=0.8, zorder=3)
for m in range(0, 17, 2):
    axB.plot([216.215, 216.26], [17.55 + m * pscale_b] * 2, color=LGREEN, lw=0.8, zorder=3)
for m in [0, 4, 8, 12, 16]:
    axB.text(216.125, 17.55 + m * pscale_b, str(m), color=GREEN, fontsize=7.5, ha='center', va='center')
axB.text(216.275, 20.3, '(mm)', color=LGREEN, fontsize=6, rotation=90, ha='center', va='center')
axB.scatter(vb_time, vb_lev, marker='$v$', s=16, color=VBLUE, linewidths=0.2, zorder=6)
vt = axB.get_yaxis_transform()
vB0, vBk = 17.55, 1.85 / 8
xb = (1309.5 - 733) / 548
axB.plot([xb, xb], [vB0, vB0 + 16 * vBk], transform=vt, color='#4BA6E8', lw=0.8, clip_on=False)
for m in [0, 4, 8, 12, 16]:
    axB.plot([xb - 0.016, xb], [vB0 + m * vBk] * 2, transform=vt, color='#4BA6E8', lw=0.8, clip_on=False)
for m in [0, 8, 16]:
    axB.text(xb + 0.025, vB0 + m * vBk, str(m), transform=vt, color='#4BA6E8', fontsize=7.5, va='center')
axB.text(0.985, 19.3, 'vis range (km)', transform=vt, color='#4BA6E8', fontsize=4.5, rotation=90,
         ha='center', va='center')

# ---------------- bottom panels
axC = ax_px(65, 413, 613, 664)
bottom_panel(axC, (222.80, 233.57), [223.0 + i for i in range(11)], 0.5, lcla_time, lcla_km,
             cba1, cba2, cba3, ska_time, ska_frac, ska2_time, ska2_frac, ska3_time, ska3_frac,
             pra_time, pra_mb, 985, (0.475, 0.25), -1.33, 3.2, 7.5, [224, 226, 228, 230, 232])
axC.axvline(223.0, color=LGREEN, lw=1.2, zorder=2)
axC.axvline(230.0, color=LGREEN, lw=1.2, zorder=2)

axD = ax_px(734, 410, 1284, 661)
bottom_panel(axD, (216.06, 220.36), [216.0, 217.0, 218.0, 219.0, 220.0], 0.513, lclb_time, lclb_km,
             cbb1, cbb2, cbb3, skb_time, skb_frac, skb2_time, skb2_frac, skb3_time, skb3_frac,
             prb_time, prb_mb, 980, (0.14, 0.25), -1.346, 3.8, 8.5, [217, 218, 219, 220])

# ---------------- texts
fig.text(px2fx(326), px2fy(22), '(a) Wet days miss (ARM-AMF3)', ha='center', va='center',
         fontsize=12.5, fontweight='bold', family=['Lato', 'DejaVu Sans'])
fig.text(px2fx(1004), px2fy(20), '(b) Dry days miss (ARM-AMF3)', ha='center', va='center',
         fontsize=12.5, fontweight='bold', family=['Lato', 'DejaVu Sans'])
st = 'Station  1M4 lat: 34.2803  lon: \u221287.6004  altitude= 283 m'
fig.text(px2fx(340), px2fy(59), st, ha='center', va='center', fontsize=11.8, color='#111111')
fig.text(px2fx(1007), px2fy(54), st, ha='center', va='center', fontsize=11.8, color='#111111')
fig.text(px2fx(340), px2fy(368), 'METAR, Year  2013', ha='center', va='center', fontsize=12.5)
fig.text(px2fx(1007), px2fy(371), 'METAR, Year  2016', ha='center', va='center', fontsize=12.5)

for x0, yT, yTd, yC in [(17, 257, 197, 140), (684, 253, 197, 137)]:
    fig.text(px2fx(x0), px2fy(yT), 'T,', rotation=90, ha='center', va='center', fontsize=14)
    fig.text(px2fx(x0), px2fy(yTd), 'Tdew', rotation=90, ha='center', va='center', fontsize=14, color=RED)
    fig.text(px2fx(x0), px2fy(yC), '(C)', rotation=90, ha='center', va='center', fontsize=14)
for x0, yq, yqs in [(641, 213, 158), (1307, 207, 150)]:
    fig.text(px2fx(x0), px2fy(yq), 'q,', rotation=90, ha='center', va='center', fontsize=12, color=RED)
    fig.text(px2fx(x0), px2fy(yqs), 'qsat  (g/kg)', rotation=90, ha='center', va='center', fontsize=12)


def multicolor(xc, y, parts, fs):
    r = fig.canvas.get_renderer()
    texts = []
    for s, c in parts:
        texts.append(fig.text(0, px2fy(y), s, color=c, fontsize=fs, ha='left', va='center'))
    widths = [t.get_window_extent(renderer=r).width for t in texts]
    x = xc - sum(widths) / 2
    for t, w in zip(texts, widths):
        t.set_x(px2fx(x))
        x += w


lcl_parts = [('LCL;', RED), ('  cloud base reports: 1, ', '#111111'), ('2', CYAN), (',', '#111111'),
             ('3', MAG), (', ', '#111111'), ('4', BLUE)]
multicolor(339, 402, lcl_parts, 11.5)
multicolor(1009, 397, lcl_parts, 11.5)

fig.text(px2fx(17), px2fy(540), 'Height (km)', rotation=90, ha='center', va='center', fontsize=14)
fig.text(px2fx(685), px2fy(537), 'Height (km)', rotation=90, ha='center', va='center', fontsize=14)
fig.text(px2fx(53), px2fy(630), 'Sky cover', rotation=90, ha='center', va='center', fontsize=8, color='#4BA6E8')
fig.text(px2fx(722), px2fy(637), 'Sky cover', rotation=90, ha='center', va='center', fontsize=8, color='#4BA6E8')
fig.text(px2fx(652), px2fy(633), 'Station P (mb)', rotation=90, ha='center', va='center', fontsize=8)
fig.text(px2fx(1323), px2fy(630), 'Station P (mb)', rotation=90, ha='center', va='center', fontsize=8)
fig.text(px2fx(568), px2fy(690), 'Times UT', ha='center', va='center', fontsize=7.5)
fig.text(px2fx(1238), px2fy(687), 'Times UT', ha='center', va='center', fontsize=7.5)

fig.savefig('out.png', dpi=100)
